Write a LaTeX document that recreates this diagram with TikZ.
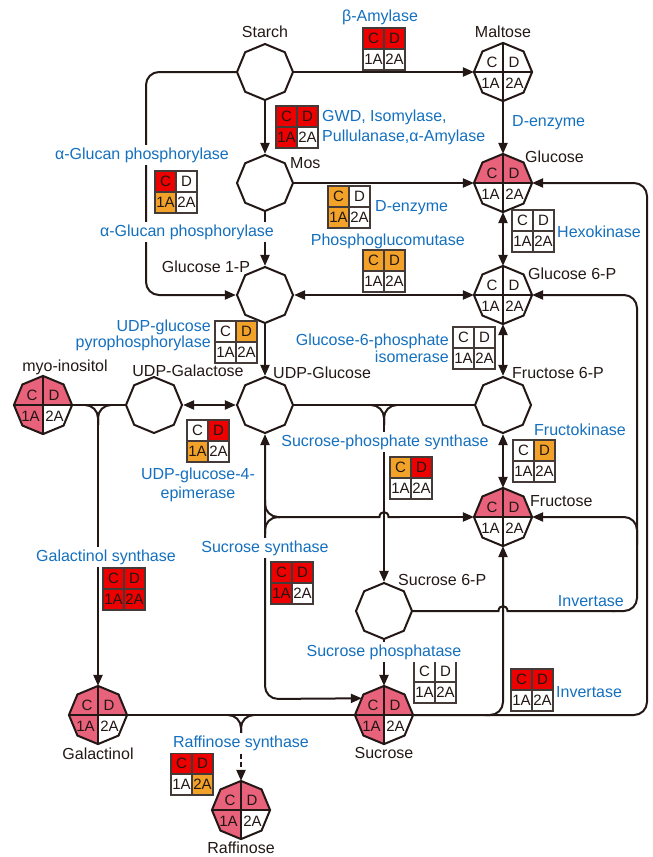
\documentclass[tikz,border=0pt]{standalone}
\usepackage{fontspec}
\setmainfont{Liberation Sans}
\usetikzlibrary{shapes.geometric,arrows.meta}
\definecolor{ink}{RGB}{35,24,21}
\definecolor{eblue}{RGB}{20,112,190}
\definecolor{cred}{RGB}{236,0,0}
\definecolor{corange}{RGB}{242,162,40}
\definecolor{cpink}{RGB}{232,98,124}
\newcommand\labfont{\fontsize{16}{18}\selectfont}
\newcommand\cellfont{\fontsize{15}{15}\selectfont}
\tikzset{
 oct/.style={regular polygon, regular polygon sides=8, shape border rotate=22.5, minimum size=56pt, inner sep=0pt, outer sep=1pt},
 octline/.style={draw=ink, line width=2pt, line join=miter},
 qline/.style={draw=ink, line width=1.4pt},
 ebx/.style={rectangle, minimum size=42pt, inner sep=0pt, outer sep=0pt},
 boxline/.style={draw=ink!85, line width=1.5pt},
 cell/.style={font=\cellfont, text=ink, inner sep=0pt},
 conn/.style={draw=ink, line width=2pt},
 arr/.style={conn, -{Triangle[length=11pt,width=9pt]}},
 darr/.style={conn, {Triangle[length=11pt,width=9pt]}-{Triangle[length=11pt,width=9pt]}},
 rc/.style={rounded corners=13pt},
 met/.style={font=\labfont, text=ink, inner sep=1pt},
 enz/.style={font=\labfont, text=eblue, inner sep=1pt},
 enzw/.style={enz, fill=white, inner xsep=3pt, inner ysep=3pt},
}
\newcommand\emptyoct[3]{\node[oct, octline] (#1) at (#2,#3) {};}
\newcommand\metab[7]{%
 \node[oct] (#1) at (#2,#3) {};
 \begin{scope}
  \clip (#1.corner 1) -- (#1.corner 2) -- (#1.corner 3) -- (#1.corner 4) -- (#1.corner 5) -- (#1.corner 6) -- (#1.corner 7) -- (#1.corner 8) -- cycle;
  \fill[#4] (#1.center) rectangle ++(-30,-30);
  \fill[#5] (#1.center) rectangle ++(30,-30);
  \fill[#6] (#1.center) rectangle ++(-30,30);
  \fill[#7] (#1.center) rectangle ++(30,30);
  \draw[qline] ([shift={(0,-30)}]#1.center) -- ([shift={(0,30)}]#1.center);
  \draw[qline] ([shift={(-30,0)}]#1.center) -- ([shift={(30,0)}]#1.center);
 \end{scope}
 \draw[octline] (#1.corner 1) -- (#1.corner 2) -- (#1.corner 3) -- (#1.corner 4) -- (#1.corner 5) -- (#1.corner 6) -- (#1.corner 7) -- (#1.corner 8) -- cycle;
 \node[cell] (#1-c) at ([shift={(-11,-10)}]#1.center) {C};
 \node[cell] (#1-d) at ([shift={(11,-10)}]#1.center) {D};
 \node[cell] (#1-a) at ([shift={(-12.5,11)}]#1.center) {1A};
 \node[cell] (#1-b) at ([shift={(11.5,11)}]#1.center) {2A};
}
\newcommand\enzbox[7]{%
 \node[ebx] (#1) at (#2,#3) {};
 \fill[#4] (#1.north west) rectangle (#1.center);
 \fill[#5] (#1.north) rectangle (#1.east);
 \fill[#6] (#1.west) rectangle (#1.south);
 \fill[#7] (#1.center) rectangle (#1.south east);
 \draw[boxline] (#1.north west) rectangle (#1.south east) (#1.north) -- (#1.south) (#1.west) -- (#1.east);
 \node[cell] (#1-c) at ([shift={(-10.5,-10.5)}]#1.center) {C};
 \node[cell] (#1-d) at ([shift={(10.5,-10.5)}]#1.center) {D};
 \node[cell] (#1-a) at ([shift={(-10.5,10.5)}]#1.center) {1A};
 \node[cell] (#1-b) at ([shift={(10.5,10.5)}]#1.center) {2A};
}
\begin{document}
\begin{tikzpicture}[x=1pt,y=-1pt]
\useasboundingbox (0,0) rectangle (653,857);
% metabolites
\emptyoct{starch}{265}{72}
\metab{maltose}{503}{72}{white}{white}{white}{white}
\emptyoct{mos}{265}{183}
\metab{glc}{503}{183}{cpink}{cpink}{white}{white}
\emptyoct{g1p}{265}{295}
\metab{g6p}{503}{295}{white}{white}{white}{white}
\emptyoct{f6p}{503}{405}
\emptyoct{udpglc}{265}{405}
\emptyoct{udpgal}{154}{405}
\metab{myo}{43}{405}{cpink}{cpink}{cpink}{white}
\metab{fru}{503}{517}{cpink}{cpink}{white}{white}
\emptyoct{s6p}{384}{611}
\metab{suc}{384}{715}{cpink}{cpink}{cpink}{white}
\metab{gol}{98}{715}{cpink}{cpink}{cpink}{white}
\metab{raf}{241}{810}{cpink}{cpink}{cpink}{white}
% enzyme boxes
\enzbox{bamy}{384}{49}{cred}{cred}{white}{white}
\enzbox{gwd}{297}{127}{cred}{cred}{cred}{white}
\enzbox{agp}{176}{192}{cred}{white}{corange}{white}
\enzbox{denz}{349}{207}{corange}{white}{corange}{white}
\enzbox{pgm}{384}{271}{corange}{corange}{white}{white}
\enzbox{hxk}{533}{231}{white}{white}{white}{white}
\enzbox{gpi}{474}{348}{white}{white}{white}{white}
\enzbox{ugp}{236}{342}{white}{corange}{white}{white}
\enzbox{uge}{208}{441}{white}{cred}{corange}{white}
\enzbox{sps}{411}{478}{corange}{cred}{white}{white}
\enzbox{frk}{534}{461}{white}{corange}{white}{white}
\enzbox{gols}{124}{589}{cred}{cred}{cred}{cred}
\enzbox{sus}{292}{583}{cred}{cred}{cred}{white}
\enzbox{spp}{435}{682}{white}{white}{white}{white}
\enzbox{inv}{532}{690}{cred}{cred}{white}{white}
\enzbox{rafs}{192}{774}{cred}{cred}{white}{corange}
% connectors
\draw[arr] (starch.east) -- (maltose.west);
\draw[arr, rc] (starch.west) -- (146,72) -- (146,295) -- (g1p.west);
\draw[arr] (starch.south) -- (mos.north);
\draw[arr] (mos.south) -- (g1p.north);
\draw[arr] (mos.east) -- (glc.west);
\draw[arr] (maltose.south) -- (glc.north);
\draw[darr] (glc.south) -- (g6p.north);
\draw[darr] (g1p.east) -- (g6p.west);
\draw[arr] (g1p.south) -- (udpglc.north);
\draw[darr] (g6p.south) -- (f6p.north);
\draw[darr] (f6p.south) -- (fru.north);
\draw[darr] (udpgal.east) -- (udpglc.west);
% galactinol synthase
\draw[conn] (myo.east) -- (udpgal.west);
\draw[conn, rc] (85,405) -- (98,405) -- (98,425);
\draw[conn, rc] (111,405) -- (98,405) -- (98,425);
\coordinate (golj) at (98,418);
\draw[arr] (golj) -- (gol.north);
% sucrose-phosphate synthase
\draw[conn] (udpglc.east) -- (f6p.west);
\draw[conn, rc] (371,405) -- (384,405) -- (384,425);
\draw[conn, rc] (397,405) -- (384,405) -- (384,425);
\coordinate (spsj) at (384,418);
\draw[arr] (spsj) -- (s6p.north);
% sucrose synthase
\draw[darr, rc] (udpglc.south) -- (265,699) -- (suc.143);
\draw[conn, rc] (265,500) -- (265,517) -- (280,517);
\draw[conn, rc] (265,534) -- (265,517) -- (280,517);
\coordinate (susj) at (278,517);
\draw[conn] (susj) -- (379.5,517) .. controls (379.5,510.5) and (388.5,510.5) .. (388.5,517) -- (400,517);
\coordinate (susk) at (398,517);
\draw[arr] (susk) -- (fru.west);
% sucrose phosphatase
\draw[arr] (s6p.south) -- (suc.north);
% invertase (upper)
\draw[conn] (s6p.east) -- (498.5,611) .. controls (498.5,604.5) and (507.5,604.5) .. (507.5,611) -- (615,611);
\coordinate (invk) at (612,611);
\draw[arr, rc] (invk) -- (637,611) -- (637,295) -- (g6p.east);
\draw[arr, rc] (637,545) -- (637,517) -- (fru.east);
% invertase (lower)
\draw[arr, rc] (suc.east) -- (647,715) -- (647,183) -- (glc.east);
\draw[arr, rc] (485,715) -- (503,715) -- (fru.south);
% raffinose synthase
\draw[conn] (gol.east) -- (suc.west);
\draw[conn, rc] (228,715) -- (241,715) -- (241,738);
\draw[conn, rc] (254,715) -- (241,715) -- (241,738);
% metabolite labels
\node[met] (lstarch) at (265,32) {Starch};
\node[met] (lmaltose) at (503,32) {Maltose};
\node[met, anchor=west] (lmos) at (289,163) {Mos};
\node[met, anchor=west] (lglc) at (524,157) {Glucose};
\node[met] (lg1p) at (206,267) {Glucose 1-P};
\node[met, anchor=west] (lg6p) at (527,274) {Glucose 6-P};
\node[met, anchor=west] (lf6p) at (511,373) {Fructose 6-P};
\node[met, anchor=west] (ludpglc) at (272,373) {UDP-Glucose};
\node[met] (ludpgal) at (188,371) {UDP-Galactose};
\node[met] (lmyo) at (65,367) {myo-inositol};
\node[met, anchor=west] (lfru) at (529,501) {Fructose};
\node[met, anchor=west] (ls6p) at (397,580) {Sucrose 6-P};
\node[met] (lsuc) at (384,753) {Sucrose};
\node[met] (lgol) at (98,754) {Galactinol};
\node[met] (lraf) at (241,848) {Raffinose};
% enzyme labels
\node[enz] (lbamy) at (380,17) {β-Amylase};
\node[enz, anchor=west, align=left, font=\fontsize{16}{20}\selectfont] (lgwd) at (321,127) {GWD, Isomylase,\\Pullulanase,α-Amylase};
\node[enzw] (lagp1) at (142,155) {α-Glucan phosphorylase};
\node[enzw] (lagp2) at (187,232) {α-Glucan phosphorylase};
\node[enz, anchor=west] (ldenz1) at (511,123) {D-enzyme};
\node[enz, anchor=west] (ldenz2) at (374,208) {D-enzyme};
\node[enz, anchor=east] (lpgm) at (466,241) {Phosphoglucomutase};
\node[enz, anchor=west] (lhxk) at (556,232) {Hexokinase};
\node[enz, anchor=east, align=right, font=\fontsize{16}{17}\selectfont] (lgpi) at (450,348) {Glucose-6-phosphate\\isomerase};
\node[enz, anchor=east, align=right, font=\fontsize{16}{16}\selectfont] (lugp) at (212,335) {UDP-glucose\\pyrophosphorylase};
\node[enz, align=center, font=\fontsize{16}{19}\selectfont] (luge) at (198,485) {UDP-glucose-4-\\epimerase};
\node[enzw] (lsps) at (385,442) {Sucrose-phosphate synthase};
\node[enz] (lfrk) at (580,430) {Fructokinase};
\node[enzw] (lgols) at (106,557) {Galactinol synthase};
\node[enzw] (lsus) at (265,548) {Sucrose synthase};
\node[enz, anchor=east] (linv1) at (625,601) {Invertase};
\node[enzw] (lspp) at (384,652) {Sucrose phosphatase};
\node[enz, anchor=west] (linv2) at (555,692) {Invertase};
\node[enzw] (lrafs) at (241,743) {Raffinose synthase};
\draw[arr, dash pattern=on 5pt off 3pt] (lrafs.south) -- (raf.north);
\end{tikzpicture}
\end{document}
